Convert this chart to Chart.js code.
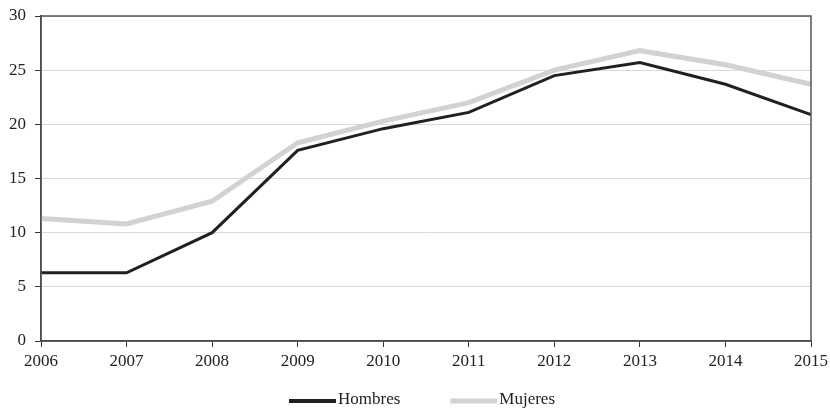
<!DOCTYPE html>
<html>
<head>
<meta charset="utf-8">
<script src="https://cdn.jsdelivr.net/npm/chart.js@4/dist/chart.umd.min.js"></script>
<style>
  html, body { margin: 0; padding: 0; background: #fff; }
  #wrap { width: 830px; height: 413px; position: relative; }
</style>
</head>
<body>
<div id="wrap"><canvas id="grafico"></canvas></div>
<script>
const years = ['2006', '2007', '2008', '2009', '2010', '2011', '2012', '2013', '2014', '2015'];
const hombres = [6.3, 6.3, 10.0, 17.6, 19.6, 21.1, 24.5, 25.7, 23.7, 20.9];
const mujeres = [11.3, 10.8, 12.9, 18.3, 20.3, 22.0, 25.0, 26.8, 25.5, 23.7];
const yTicks = [0, 5, 10, 15, 20, 25, 30];

const familia = "'Liberation Serif', 'DejaVu Serif', serif";
const fuente = { family: familia, size: 17 };

// marco del area del grafico (arriba y derecha)
const marco = {
  id: 'marco',
  afterDatasetsDraw(chart) {
    const { ctx, chartArea: a } = chart;
    ctx.save();
    ctx.strokeStyle = '#555';
    ctx.lineWidth = 1.5;
    ctx.strokeRect(a.left, a.top, a.right - a.left, a.bottom - a.top);
    ctx.restore();
  }
};

// leyenda abajo: linea larga pegada al texto
const leyenda = {
  id: 'leyenda',
  afterDraw(chart) {
    const { ctx, chartArea: a } = chart;
    const sets = chart.data.datasets;
    const largo = 47, gap = 2, sep = 50, y = 400;
    ctx.save();
    ctx.font = '17px ' + familia;
    const anchos = sets.map(ds => ctx.measureText(ds.label).width);
    let total = 0;
    anchos.forEach((w, i) => { total += largo + gap + w + (i < anchos.length - 1 ? sep : 0); });
    let x = (a.left + a.right) / 2 - total / 2 - 4;
    sets.forEach((ds, i) => {
      ctx.strokeStyle = ds.borderColor;
      ctx.lineWidth = ds.legendWidth;
      ctx.beginPath();
      ctx.moveTo(x, y + 1);
      ctx.lineTo(x + largo, y + 1);
      ctx.stroke();
      ctx.fillStyle = '#222';
      ctx.textBaseline = 'middle';
      ctx.fillText(ds.label, x + largo + gap, y);
      x += largo + gap + anchos[i] + sep;
    });
    ctx.restore();
  }
};

const ctx = document.getElementById('grafico').getContext('2d');
new Chart(ctx, {
  type: 'line',
  data: {
    labels: years,
    datasets: [
      {
        label: 'Hombres',
        data: hombres,
        borderColor: '#231f20',
        borderWidth: 3,
        legendWidth: 4,
        pointRadius: 0,
        tension: 0,
        order: 1
      },
      {
        label: 'Mujeres',
        data: mujeres,
        borderColor: '#d2d2d2',
        borderWidth: 5,
        legendWidth: 5,
        pointRadius: 0,
        tension: 0,
        order: 2
      }
    ]
  },
  options: {
    responsive: true,
    maintainAspectRatio: false,
    animation: false,
    layout: { padding: { top: 16, right: 19, left: 0, bottom: 42 } },
    plugins: {
      tooltip: { enabled: false },
      legend: { display: false }
    },
    scales: {
      x: {
        offset: false,
        afterFit(axis) { axis.height = 30; axis.paddingLeft = 0; axis.paddingRight = 0; },
        grid: { drawOnChartArea: false, drawTicks: true, tickLength: 6, color: '#333' },
        border: { color: '#333', width: 1.5 },
        ticks: { font: fuente, color: '#222', maxRotation: 0, padding: 4 }
      },
      y: {
        min: 0,
        max: 30,
        afterBuildTicks(axis) { axis.ticks = yTicks.map(v => ({ value: v })); },
        afterFit(axis) { axis.width = 41; axis.paddingTop = 0; axis.paddingBottom = 0; },
        grid: { color: '#d9d9d9', lineWidth: 1, tickColor: '#333', tickLength: 6 },
        border: { color: '#333', width: 1.5 },
        ticks: { font: fuente, color: '#222', padding: 9 }
      }
    }
  },
  plugins: [marco, leyenda]
});
</script>
</body>
</html>
